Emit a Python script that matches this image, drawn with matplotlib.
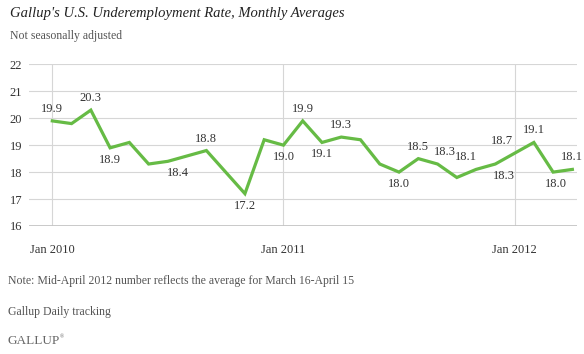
#!/usr/bin/env python3
"""Gallup U.S. underemployment rate, monthly averages."""

import matplotlib
matplotlib.use("Agg")
import matplotlib.pyplot as plt
import pandas as pd

# monthly averages, Jan 2010 .. Apr 2012
rate = [19.9, 19.8, 20.3, 18.9, 19.1, 18.3, 18.4, 18.6, 18.8, 18.0,
        17.2, 19.2, 19.0, 19.9, 19.1, 19.3, 19.2, 18.3, 18.0, 18.5,
        18.3, 17.8, 18.1, 18.3, 18.7, 19.1, 18.0, 18.1]
months = pd.date_range("2010-01-01", periods=len(rate), freq="MS")
y_ticks = [16, 17, 18, 19, 20, 21, 22]

# which points carry a value label: index -> (side, extra x shift in px)
labelled = {0: ("up", 0), 2: ("up", 0), 3: ("down", 0), 6: ("down", 10),
            8: ("up", 0), 10: ("down", 0), 12: ("down", 0), 13: ("up", 0),
            14: ("down", 0), 15: ("up", 0), 18: ("down", 0), 19: ("up", 0),
            20: ("up", 7), 22: ("up", -10), 23: ("down", 9), 24: ("up", -13),
            25: ("up", 0), 26: ("down", 3), 27: ("up", 0)}

GREEN = "#66bb45"
GRID = "#d6d6d6"
TEXT = "#333333"
SERIF = "Liberation Serif"

plt.rcParams["font.family"] = SERIF

fig = plt.figure(figsize=(5.84, 3.54), dpi=100)
ax = fig.add_axes([29 / 584, 128 / 354, 548 / 584, 161.7 / 354])

x = list(range(len(rate)))
ax.plot(x, rate, color=GREEN, linewidth=2.3, solid_joinstyle="miter", zorder=3)

for i, (side, dx) in labelled.items():
    dy = 12 if side == "up" else -12
    ax.annotate(f"{rate[i]:.1f}", (x[i], rate[i]),
                xytext=(dx * 0.72, dy * 0.72), textcoords="offset points",
                ha="center", va="center", fontsize=9, color=TEXT, zorder=4)

ax.set_xlim(-1.21, len(rate) - 1 + 0.24)
ax.set_ylim(16, 22)
ax.set_yticks(y_ticks)
ax.set_yticklabels([str(t) for t in y_ticks])

jan = [i for i, m in enumerate(months) if m.month == 1]
ax.set_xticks(jan)
ax.set_xticklabels([months[i].strftime("%b %Y") for i in jan])

for t in y_ticks[1:]:
    ax.axhline(t, color=GRID, linewidth=0.8, zorder=1)
for i in jan:
    ax.axvline(i, color=GRID, linewidth=0.8, zorder=1)
ax.axhline(16, color="#c4c4c4", linewidth=2.0, zorder=2)

for side in ["top", "right", "left", "bottom"]:
    ax.spines[side].set_visible(False)
ax.tick_params(axis="both", length=0, labelsize=9, labelcolor=TEXT)
ax.tick_params(axis="x", pad=13)
ax.tick_params(axis="y", pad=5)

fig.text(10 / 584, 1 - 14 / 354, "Gallup's U.S. Underemployment Rate, Monthly Averages",
         fontsize=10.5, style="italic", color="#222222", va="center", ha="left")
fig.text(10 / 584, 1 - 36 / 354, "Not seasonally adjusted",
         fontsize=8.5, color="#555555", va="center", ha="left")
fig.text(8 / 584, 1 - 281 / 354,
         "Note: Mid-April 2012 number reflects the average for March 16-April 15",
         fontsize=8.5, color="#555555", va="center", ha="left")
fig.text(8 / 584, 1 - 312 / 354, "Gallup Daily tracking",
         fontsize=8.5, color="#555555", va="center", ha="left")
fig.text(7 / 584, 1 - 341 / 354, "GALLUP", fontsize=9.5, color="#666666",
         va="center", ha="left")
fig.text(60 / 584, 1 - 337 / 354, "\u00ae", fontsize=4, color="#666666",
         va="center", ha="left")

fig.savefig("out.png", dpi=100)
